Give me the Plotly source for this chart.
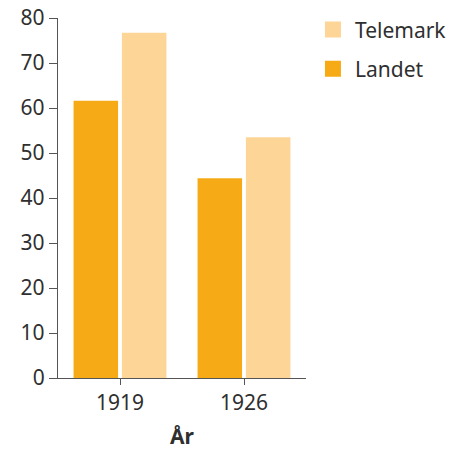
import plotly.graph_objects as go

years = ["1919", "1926"]
landet = [61.6, 44.4]
telemark = [76.7, 53.5]
y_ticks = [0, 10, 20, 30, 40, 50, 60, 70, 80]

C_LANDET = "#F6AB16"
C_TELEMARK = "#FDD597"
TXT = "#2f2f2f"
FONT = "Noto Sans"
FS = 21

fig = go.Figure()
fig.add_trace(go.Bar(name="Landet", x=years, y=landet, marker_color=C_LANDET,
                     marker_line_width=0, showlegend=False))
fig.add_trace(go.Bar(name="Telemark", x=years, y=telemark, marker_color=C_TELEMARK,
                     marker_line_width=0, showlegend=False))
# legend entries with large square swatches
for name, col in [("Telemark", C_TELEMARK), ("Landet", C_LANDET)]:
    fig.add_trace(go.Scatter(name=name, x=[None], y=[None], mode="markers",
                             marker=dict(symbol="square", size=24, color=col),
                             legendgroup=name, showlegend=True))

fig.update_layout(
    width=464, height=455,
    margin=dict(l=58, r=158, t=18, b=77, autoexpand=False),
    plot_bgcolor="white", paper_bgcolor="white",
    barmode="group", bargap=0.22, bargroupgap=0.08,
    font=dict(family=FONT, size=FS, color=TXT),
    legend=dict(x=1.02, y=1.024, xanchor="left", yanchor="top",
                font=dict(size=FS, color=TXT), itemwidth=34,
                tracegroupgap=9, itemsizing="trace"),
    showlegend=True,
)
fig.update_xaxes(
    showline=True, linecolor="#555", linewidth=1.3,
    ticks="outside", ticklen=6, tickcolor="#555",
    title=dict(text="<b>År</b>", font=dict(size=FS, color=TXT), standoff=13),
    tickfont=dict(size=FS, color=TXT),
)
fig.update_yaxes(
    range=[0, 80], tickvals=y_ticks, showgrid=False, zeroline=False,
    showline=True, linecolor="#555", linewidth=1.3,
    ticks="outside", ticklen=8, tickcolor="#555",
    tickfont=dict(size=FS, color=TXT),
)

fig.write_html("out.html", config={"displayModeBar": False},
               post_script="document.body.style.margin='0px';")
